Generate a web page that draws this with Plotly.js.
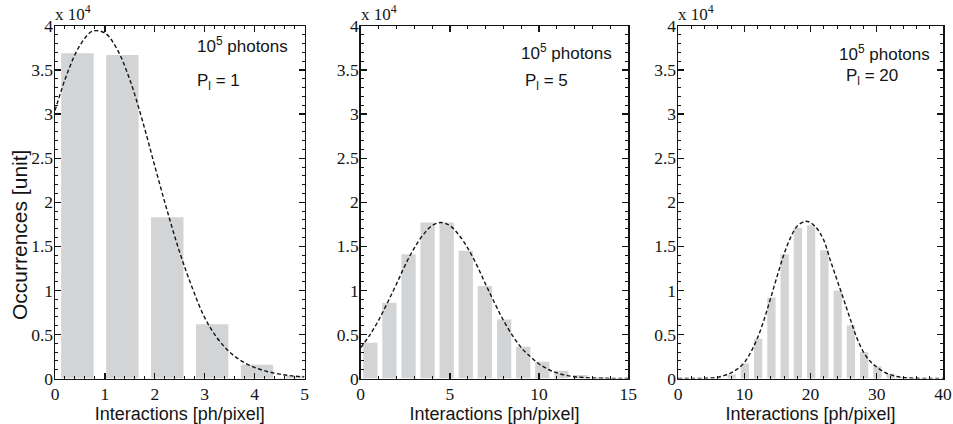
<!DOCTYPE html>
<html>
<head>
<meta charset="utf-8">
<script src="https://cdn.plot.ly/plotly-3.0.1.min.js"></script>
<style>
  html, body { margin: 0; padding: 0; background: #fff; }
  #chart { width: 953px; height: 424px; }
</style>
</head>
<body>
<div id="chart"></div>
<script>
// ---- Data (occurrences in units of 10^4) ----
// Panel 1 : P_l = 1
const p1BinCenters = [0.45, 1.35, 2.25, 3.15, 4.05, 4.95];
const p1Counts     = [3.69, 3.67, 1.83, 0.615, 0.155, 0.03];
const p1FitX = [0, 0.25, 0.5, 0.75, 1, 1.25, 1.5, 1.75, 2, 2.25, 2.5, 2.75, 3, 3.25, 3.5, 3.75, 4, 4.25, 4.5, 4.75, 5];
const p1FitY = [3.04, 3.47, 3.78, 3.94, 3.92, 3.73, 3.39, 2.93, 2.41, 1.90, 1.43, 1.03, 0.69, 0.46, 0.30, 0.195, 0.125, 0.08, 0.05, 0.03, 0.018];

// Panel 2 : P_l = 5
const p2BinCenters = [0.54, 1.61, 2.68, 3.75, 4.82, 5.89, 6.96, 8.04, 9.11, 10.18, 11.25, 12.32, 13.39, 14.46];
const p2Counts     = [0.405, 0.86, 1.41, 1.77, 1.77, 1.45, 1.05, 0.67, 0.36, 0.19, 0.087, 0.04, 0.015, 0.006];
const p2FitX = [0, 0.5, 1, 1.5, 2, 2.5, 3, 3.5, 4, 4.5, 5, 5.5, 6, 6.5, 7, 7.5, 8, 8.5, 9, 9.5, 10, 10.5, 11, 11.5, 12, 12.5, 13, 14, 15];
const p2FitY = [0.35, 0.49, 0.66, 0.86, 1.07, 1.29, 1.48, 1.63, 1.735, 1.77, 1.735, 1.63, 1.48, 1.29, 1.07, 0.86, 0.66, 0.49, 0.35, 0.25, 0.165, 0.105, 0.063, 0.037, 0.02, 0.011, 0.006, 0.0015, 0.0003];

// Panel 3 : P_l = 20
const p3BinCenters = [6.1, 8.1, 10.1, 12.1, 14.1, 16.1, 18.1, 20.1, 22.1, 24.1, 26.1, 28.1, 30.1, 32.1, 34.1, 36.1];
const p3Counts     = [0.007, 0.045, 0.17, 0.45, 0.92, 1.41, 1.71, 1.74, 1.455, 1.0, 0.605, 0.30, 0.14, 0.053, 0.018, 0.006];
const p3FitX = [0, 2, 4, 5, 6, 7, 8, 9, 10, 11, 12, 13, 14, 15, 16, 17, 18, 19, 19.3, 20, 21, 22, 23, 24, 25, 26, 27, 28, 29, 30, 31, 32, 33, 34, 35, 36, 38, 40];
const p3FitY = [0, 0.0005, 0.002, 0.005, 0.015, 0.035, 0.065, 0.11, 0.18, 0.30, 0.46, 0.67, 0.915, 1.17, 1.41, 1.60, 1.73, 1.78, 1.785, 1.77, 1.70, 1.57, 1.34, 1.12, 0.90, 0.675, 0.46, 0.30, 0.195, 0.13, 0.078, 0.044, 0.023, 0.011, 0.005, 0.002, 0.0005, 0];

// ---- Text ----
const xTitle = 'Interactions [ph/pixel]';
const yTitle = 'Occurrences [unit]';
const photonsLabel = '10<sup>5</sup> photons';
const plLabels = ['P<sub>l</sub> = 1', 'P<sub>l</sub> = 5', 'P<sub>l</sub> = 20'];
const scaleLabel = 'x 10<sup>4</sup>';

// ---- Styles ----
const barColor = '#d3d4d6';
const ink = '#141414';
const serif = 'Liberation Serif, Times New Roman, serif';
const sans = 'Liberation Sans, Arial, Helvetica, sans-serif';

function barTrace(x, y, w, xa, ya) {
  return { type: 'bar', x: x, y: y, width: w, marker: { color: barColor, line: { width: 0 } },
           xaxis: xa, yaxis: ya, hoverinfo: 'skip', showlegend: false };
}
function fitTrace(x, y, xa, ya) {
  return { type: 'scatter', mode: 'lines', x: x, y: y,
           line: { color: ink, width: 1.4, dash: '4px,2.5px', shape: 'spline' },
           xaxis: xa, yaxis: ya, hoverinfo: 'skip', showlegend: false, cliponaxis: true };
}

const data = [
  barTrace(p1BinCenters, p1Counts, 0.65, 'x', 'y'),
  fitTrace(p1FitX, p1FitY, 'x', 'y'),
  barTrace(p2BinCenters, p2Counts, 0.80, 'x2', 'y2'),
  fitTrace(p2FitX, p2FitY, 'x2', 'y2'),
  barTrace(p3BinCenters, p3Counts, 1.25, 'x3', 'y3'),
  fitTrace(p3FitX, p3FitY, 'x3', 'y3')
];

const W = 953, H = 424;
const yDom = [(H - 378.5) / H, (H - 26) / H];

function axisBase() {
  return {
    showline: true, linecolor: ink, linewidth: 1.5, mirror: 'ticks',
    ticks: 'inside', ticklen: 6, tickwidth: 1.3, tickcolor: ink,
    showgrid: false, zeroline: false, fixedrange: true,
    tickfont: { family: serif, size: 17.5, color: ink }
  };
}
function xAxis(dom, range, dtick, minorDtick, anchor) {
  return Object.assign(axisBase(), {
    domain: dom, range: range, tick0: 0, dtick: dtick, anchor: anchor,
    minor: { dtick: minorDtick, tick0: 0, ticks: 'inside', ticklen: 3, tickwidth: 1, tickcolor: ink },
    ticklabelstandoff: -1,
    title: { text: xTitle, font: { family: sans, size: 18, color: ink }, standoff: 1 }
  });
}
function yAxis(anchor) {
  return Object.assign(axisBase(), {
    domain: yDom, range: [0, 4], tick0: 0, dtick: 0.5, anchor: anchor,
    minor: { dtick: 0.1, tick0: 0, ticks: 'inside', ticklen: 3, tickwidth: 1, tickcolor: ink },
    ticklabelstandoff: -3
  });
}

const annotations = [];
const panels = [
  { xa: 'x',  ya: 'y',  left: 55 / W,    ph: [2.81, 3.79], pl: [2.81, 3.36] },
  { xa: 'x2', ya: 'y2', left: 360.7 / W, ph: [8.87, 3.71], pl: [9.1, 3.36] },
  { xa: 'x3', ya: 'y3', left: 678 / W,   ph: [24.0, 3.69], pl: [25.1, 3.42] }
];
panels.forEach(function (p, i) {
  annotations.push({ xref: p.xa, yref: p.ya, x: p.ph[0], y: p.ph[1], text: photonsLabel,
    showarrow: false, xanchor: 'left', yanchor: 'middle', font: { family: sans, size: 17, color: ink } });
  annotations.push({ xref: p.xa, yref: p.ya, x: p.pl[0], y: p.pl[1], text: plLabels[i],
    showarrow: false, xanchor: 'left', yanchor: 'middle', font: { family: sans, size: 17, color: ink } });
  annotations.push({ xref: 'paper', yref: 'paper', x: p.left - 2 / W, y: (H - 26) / H, text: scaleLabel,
    showarrow: false, xanchor: 'left', yanchor: 'bottom', font: { family: serif, size: 17, color: ink } });
});
annotations.push({ xref: 'paper', yref: 'paper', x: 19 / W, y: (H - 235) / H, text: yTitle,
  textangle: -90, showarrow: false, xanchor: 'center', yanchor: 'middle',
  font: { family: sans, size: 21, color: ink } });

const layout = {
  width: W, height: H,
  margin: { l: 0, r: 0, t: 0, b: 0 },
  paper_bgcolor: '#ffffff', plot_bgcolor: '#ffffff',
  showlegend: false,
  barmode: 'overlay',
  xaxis:  xAxis([55 / W, 304.5 / W], [0, 5], 1, 0.2, 'y'),
  xaxis2: xAxis([360.7 / W, 628.3 / W], [0, 15], 5, 1, 'y2'),
  xaxis3: xAxis([678 / W, 943 / W], [0, 40], 10, 2, 'y3'),
  yaxis:  yAxis('x'),
  yaxis2: yAxis('x2'),
  yaxis3: yAxis('x3'),
  annotations: annotations
};

Plotly.newPlot('chart', data, layout, { staticPlot: true, displayModeBar: false });
</script>
</body>
</html>
